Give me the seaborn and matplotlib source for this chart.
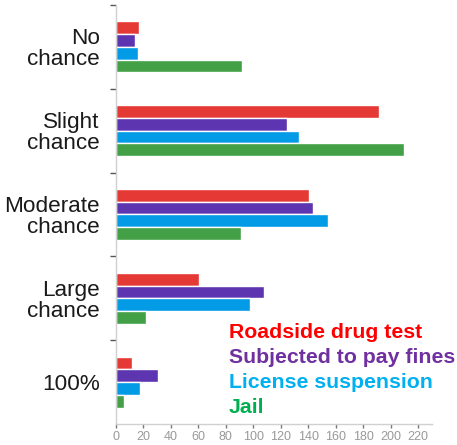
import matplotlib
matplotlib.use("Agg")
import matplotlib.pyplot as plt
import seaborn as sns
import pandas as pd

categories = ["No\nchance", "Slight\nchance", "Moderate\nchance", "Large\nchance", "100%"]
series = ["Roadside drug test", "Subjected to pay fines", "License suspension", "Jail"]
roadside = [16.7, 191.7, 140.8, 60.6, 12.1]
fines = [14, 124.8, 143.4, 107.6, 30.5]
license_susp = [16, 133.5, 154.6, 97.7, 17.9]
jail = [91.6, 209.6, 91, 22, 6]

bar_colors = ["#E53935", "#5E35B1", "#039BE5", "#43A047"]
text_colors = ["#FF0000", "#7030A0", "#00B0F0", "#00B050"]

rows = []
for name, vals in zip(series, [roadside, fines, license_susp, jail]):
    for c, v in zip(categories, vals):
        rows.append({"category": c, "series": name, "value": v})
df = pd.DataFrame(rows)

sns.set_style("white")
plt.rcParams["font.family"] = ["Liberation Sans", "DejaVu Sans"]

fig = plt.figure(figsize=(4.57, 4.45), dpi=100)
ax = fig.add_axes([0.2532, 0.0472, 0.692, 0.9416])
sns.barplot(data=df, y="category", x="value", hue="series", order=categories,
            hue_order=series, palette=bar_colors, width=0.61, gap=0,
            saturation=1, legend=False, ax=ax)

ax.set_xlim(0, 230)
ax.set_ylim(4.5, -0.5)
ax.set_xticks(range(0, 221, 20))
ax.set_xlabel("")
ax.set_ylabel("")
ax.set_yticks(range(len(categories)))
ax.set_yticklabels(categories, fontsize=16.2, color="#1a1a1a", linespacing=1.0)
for lab in ax.get_yticklabels():
    lab.set_multialignment("right")
ax.set_yticks([-0.5, 0.5, 1.5, 2.5, 3.5], minor=True)
ax.tick_params(axis="y", which="major", length=0, pad=11.5)
ax.tick_params(axis="y", which="minor", length=4, width=1, color="#555555", left=True)
ax.tick_params(axis="x", length=3, width=1, color="#777777", labelcolor="#999999",
               labelsize=9, pad=2, bottom=True)

for s in ["top", "right"]:
    ax.spines[s].set_visible(False)
for s in ["left", "bottom"]:
    ax.spines[s].set_color("#d0d0d0")
    ax.spines[s].set_linewidth(1)

for i, (name, col) in enumerate(zip(series, text_colors)):
    ax.text(0.358, 0.205 - i * 0.0597, name, transform=ax.transAxes, color=col,
            fontsize=15.3, fontweight="bold", va="baseline", ha="left")

fig.savefig("out.png", dpi=100)
